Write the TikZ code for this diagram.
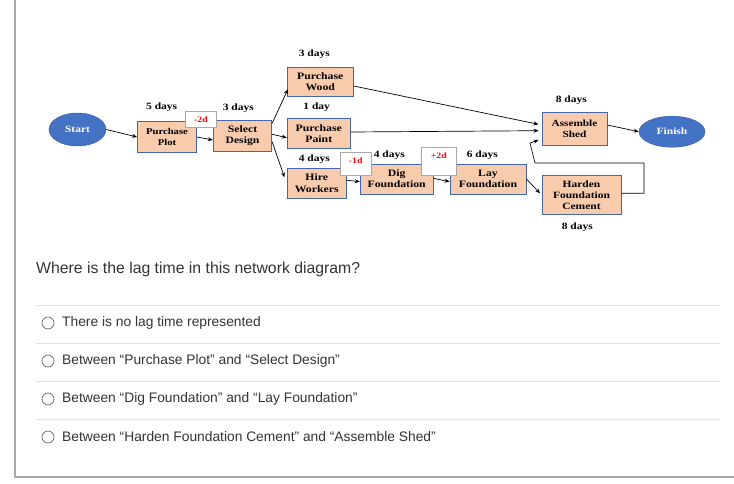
\documentclass[tikz,border=0pt]{standalone}
\usepackage{fontspec}
\setmainfont{Liberation Serif}
\newfontfamily\boxfont{Liberation Serif}[FakeStretch=1.2]
\newfontfamily\qfont{Liberation Sans}
\usetikzlibrary{arrows.meta,calc,shapes.geometric}
\definecolor{peach}{HTML}{F8CBAD}
\definecolor{boxblue}{HTML}{4466AA}
\definecolor{ellblue}{HTML}{4472C4}
\definecolor{qgray}{HTML}{333333}
\definecolor{framegray}{HTML}{A8A8A8}
\definecolor{sepgray}{HTML}{E0E0E0}
\definecolor{lagred}{HTML}{FF0000}
\tikzset{
  task/.style={draw=boxblue, fill=peach, line width=0.9pt, inner sep=0pt, align=center,
    font=\boxfont\bfseries\fontsize{9.8}{11.2}\selectfont},
  term/.style={ellipse, fill=ellblue, draw=ellblue!85!black, line width=0.5pt, inner sep=0pt,
    text=white, font=\boxfont\bfseries\fontsize{9.6}{11}\selectfont},
  lagbox/.style={draw=framegray, fill=white, line width=0.6pt, inner sep=0pt},
  lagtext/.style={text=lagred, inner sep=0pt, font=\boxfont\bfseries\fontsize{8.2}{10}\selectfont},
  dur/.style={inner sep=0pt, font=\boxfont\bfseries\fontsize{9.6}{11}\selectfont},
  arr/.style={-{Stealth[length=5pt,width=4pt]}, line width=0.7pt},
  qtext/.style={anchor=west, inner sep=0pt, text=qgray, font=\qfont\fontsize{15.8}{18}\selectfont},
  opttext/.style={anchor=west, inner sep=0pt, text=qgray, font=\qfont\fontsize{13.8}{16}\selectfont},
  radio/.style={draw=gray!80!black, line width=0.7pt, circle, minimum size=12pt, inner sep=0pt},
}
\begin{document}
\begin{tikzpicture}[x=1pt,y=-1pt]
\useasboundingbox (0,0) rectangle (734,483);
% frame
\draw[framegray, line width=1.2pt] (15,0) -- (15,477) -- (734,477);
% terminals
\node[term, minimum width=57pt, minimum height=33pt] (start) at (77.5,129.5) {Start};
\node[term, minimum width=66pt, minimum height=31pt] (finish) at (672,131.7) {Finish};
% tasks
\node[task, minimum width=59pt, minimum height=31pt, font=\boxfont\bfseries\fontsize{8.9}{10.5}\selectfont] (plot) at (167,137) {Purchase\\Plot};
\node[task, minimum width=58.4pt, minimum height=31.4pt] (design) at (242.5,136) {Select\\Design};
\node[task, minimum width=66pt, minimum height=29pt] (wood) at (320.3,81.7) {Purchase\\Wood};
\node[task, minimum width=63pt, minimum height=30pt] (paint) at (318.8,133.5) {Purchase\\Paint};
\node[task, minimum width=59pt, minimum height=30pt] (hire) at (316.7,183.2) {Hire\\Workers};
\node[task, minimum width=73pt, minimum height=30pt] (dig) at (396.7,179) {Dig\\Foundation};
\node[task, minimum width=76pt, minimum height=30pt] (lay) at (488,179) {Lay\\Foundation};
\node[task, minimum width=65pt, minimum height=33.7pt, font=\boxfont\bfseries\fontsize{9.4}{11}\selectfont] (assemble) at (574.5,128.8) {Assemble\\Shed};
\node[task, minimum width=79pt, minimum height=39pt, font=\boxfont\bfseries\fontsize{9.6}{11}\selectfont] (harden) at (581.5,194.8) {Harden\\Foundation\\Cement};
% durations
\node[dur] (d1) at (161.7,107.3) {5 days};
\node[dur] (d2) at (238.3,108.3) {3 days};
\node[dur] (d3) at (314.3,54.3) {3 days};
\node[dur] (d4) at (316.7,107.7) {1 day};
\node[dur] (d5) at (314.3,159) {4 days};
\node[dur] (d6) at (389.3,154.7) {4 days};
\node[dur] (d7) at (482.3,154.7) {6 days};
\node[dur] (d8) at (571.3,100.7) {8 days};
\node[dur] (d9) at (577.3,226.7) {8 days};
% connectors
\draw[arr] (start.east) -- (plot.west);
\draw[arr] (plot.east) -- ($(design.west)+(0,4)$);
\draw[arr] ($(design.east)+(0,-12.7)$) -- ($(wood.west)+(1,7.6)$);
\draw[arr] ($(design.east)+(0,-1.7)$) -- ($(paint.west)+(0,4.2)$);
\draw[arr] ($(design.east)+(0,5.7)$) -- ($(hire.west)+(-2.3,-5.9)$);
\draw[arr] ($(hire.east)+(0,-3)$) -- ($(dig.west)+(0,2.7)$);
\draw[arr] ($(wood.east)+(0,4.3)$) -- ($(assemble.west)+(-3,-4.5)$);
\draw[arr] ($(paint.east)+(0,-1.5)$) -- ($(assemble.west)+(-3,1.9)$);
\draw[arr] ($(dig.east)+(0,-0.7)$) -- ($(lay.west)+(0,2.7)$);
\draw[arr] ($(lay.east)+(0,0)$) -- ($(harden.west)+(-1.5,-1.5)$);
\coordinate (e1) at (644,163);
\coordinate (e2) at (535,163);
\coordinate (e3) at (530,143);
\draw[arr] ($(harden.east)+(0,-1.5)$) -| (e1) -- (e2) -- (e3) -- ($(assemble.west)+(-3,11.2)$);
\draw[arr] ($(assemble.east)+(0,-3.8)$) -- (finish.west);
% lags
\node[lagbox, minimum width=30.6pt, minimum height=16pt] (lag2) at (201,119.3) {};
\node[lagtext] (lag2t) at (201,120) {-2d};
\node[lagbox, minimum width=30.7pt, minimum height=22.7pt] (lag1) at (355.7,163.7) {};
\node[lagtext] (lag1t) at (355.7,161) {-1d};
\node[lagbox, minimum width=35pt, minimum height=28pt] (lag3) at (438.8,161.3) {};
\node[lagtext] (lag3t) at (438.8,156) {+2d};
% question
\node[qtext] (q) at (36,269) {Where is the lag time in this network diagram?};
\foreach \y in {305,343,381,419} \draw[sepgray, line width=0.8pt] (36,\y) -- (720,\y);
\node[radio] (r1) at (48,323) {};
\node[opttext] (o1) at (62,323) {There is no lag time represented};
\node[radio] (r2) at (48,361) {};
\node[opttext] (o2) at (62,361) {Between “Purchase Plot” and “Select Design”};
\node[radio] (r3) at (48,399) {};
\node[opttext] (o3) at (62,399) {Between “Dig Foundation” and “Lay Foundation”};
\node[radio] (r4) at (48,437) {};
\node[opttext] (o4) at (62,437) {Between “Harden Foundation Cement” and “Assemble Shed”};
\end{tikzpicture}
\end{document}
